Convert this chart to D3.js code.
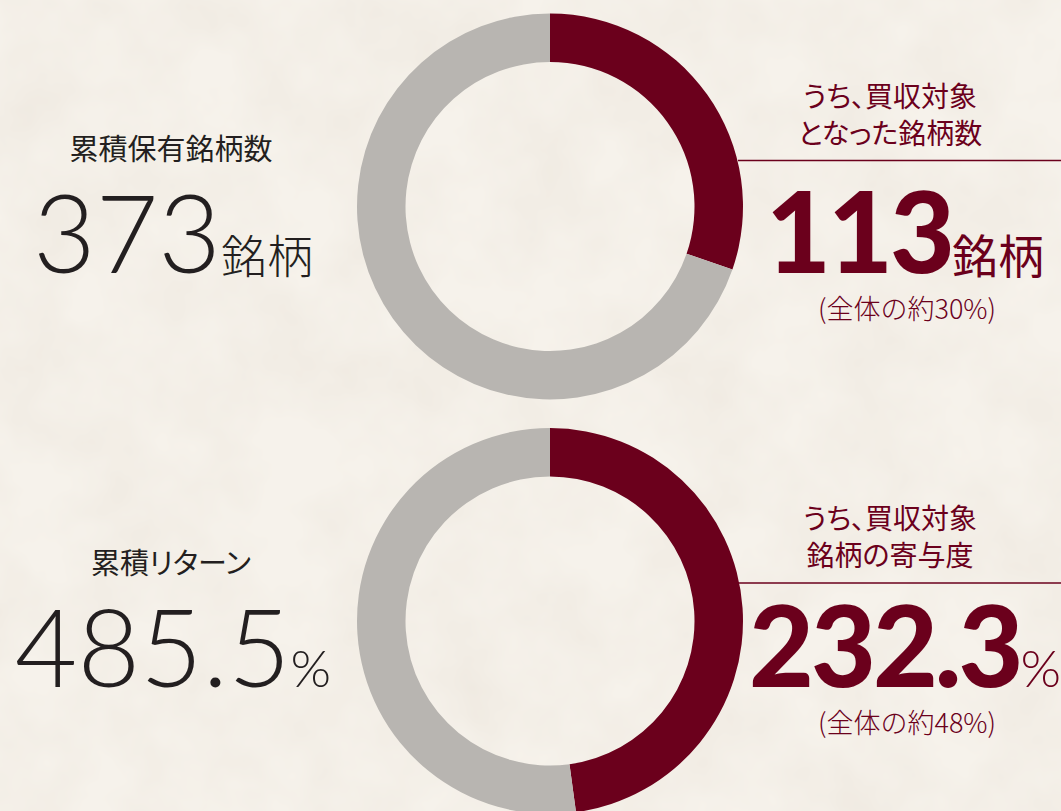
<!DOCTYPE html>
<html lang="ja">
<head>
<meta charset="UTF-8">
<title>買収対象銘柄</title>
<style>
  html, body { margin: 0; padding: 0; background: #f4efe7; }
  svg { display: block; }
  .jp { font-family: "Noto Sans CJK JP", "Noto Sans", sans-serif; }
  .palt { font-feature-settings: "palt"; }
  .num { font-family: Lato, "Noto Sans", sans-serif; }
</style>
</head>
<body>
<script src="https://cdnjs.cloudflare.com/ajax/libs/d3/7.8.5/d3.min.js"></script>
<script>
// Data
const titles = ['累積保有銘柄数', '累積リターン'];
const totals = [373, 485.5];
const totalTexts = ['373', '485.5'];
const units = ['銘柄', '%'];
const subsetTitles = [['うち、買収対象', 'となった銘柄数'], ['うち、買収対象', '銘柄の寄与度']];
const subsets = [113, 232.3];
const subsetTexts = ['113', '232.3'];
const shareTexts = ['(全体の約30%)', '(全体の約48%)'];

const width = 1061;
const height = 811;
const red = '#6b001c';
const grey = '#b8b5b1';
const ink = '#231f20';

const svg = d3.select('body').append('svg')
  .attr('width', width)
  .attr('height', height);

// paper texture
const defs = svg.append('defs');
const filter = defs.append('filter').attr('id', 'paper')
  .attr('x', 0).attr('y', 0).attr('width', '100%').attr('height', '100%');
filter.append('feTurbulence')
  .attr('type', 'fractalNoise')
  .attr('baseFrequency', 0.012)
  .attr('numOctaves', 4)
  .attr('seed', 3);
filter.append('feColorMatrix')
  .attr('type', 'matrix')
  .attr('values', '0 0 0 0 0.55  0 0 0 0 0.45  0 0 0 0 0.35  0 0 0 0.2 -0.06');

svg.append('rect').attr('width', width).attr('height', height).attr('fill', '#f6f2eb');
svg.append('rect').attr('width', width).attr('height', height).attr('filter', 'url(#paper)');

const cx = 550;
const cys = [206.5, 621];

const pie = d3.pie().sort(null).startAngle(0).endAngle(2 * Math.PI);
const arc = d3.arc().innerRadius(144.5).outerRadius(193);

const leftX = 173;
const rightX = 905;

titles.forEach((title, i) => {
  const cy = cys[i];
  const g = svg.append('g');

  // donut
  const slices = pie([subsets[i], totals[i] - subsets[i]]);
  g.append('g')
    .attr('transform', `translate(${cx},${cy})`)
    .selectAll('path')
    .data(slices)
    .join('path')
    .attr('d', arc)
    .attr('fill', (d, j) => j === 0 ? red : grey);

  // left block
  g.append('text')
    .attr('class', 'jp palt')
    .attr('x', leftX - 2)
    .attr('y', cy - 47)
    .attr('text-anchor', 'middle')
    .attr('font-size', 29)
    .attr('fill', ink)
    .text(title);

  const big = g.append('text')
    .attr('x', leftX)
    .attr('y', cy + 66)
    .attr('text-anchor', 'middle')
    .attr('fill', ink);
  big.append('tspan')
    .attr('class', 'num')
    .attr('font-size', 108)
    .attr('font-weight', 300)
    .text(totalTexts[i]);
  big.append('tspan')
    .attr('class', i === 0 ? 'jp' : 'num')
    .attr('font-size', i === 0 ? 46 : 52)
    .attr('font-weight', 300)
    .text(units[i]);

  // right block
  const lineY = cy - 46 + (i === 0 ? 0 : 8);
  g.append('line')
    .attr('x1', cx + 188)
    .attr('x2', width)
    .attr('y1', lineY)
    .attr('y2', lineY)
    .attr('stroke', red)
    .attr('stroke-width', 1.3);

  subsetTitles[i].forEach((t, k) => {
    g.append('text')
      .attr('class', 'jp palt')
      .attr('x', 890)
      .attr('y', lineY - 54 + k * 37)
      .attr('text-anchor', 'middle')
      .attr('font-size', 28)
      .attr('fill', red)
      .text(t);
  });

  const sub = g.append('text')
    .attr('x', rightX)
    .attr('y', cy + 66)
    .attr('text-anchor', 'middle')
    .attr('fill', red);
  sub.append('tspan')
    .attr('class', 'num')
    .attr('font-size', 112)
    .attr('font-weight', 900)
    .attr('letter-spacing', -3)
    .text(subsetTexts[i]);
  sub.append('tspan')
    .attr('class', i === 0 ? 'jp' : 'num')
    .attr('font-size', i === 0 ? 46 : 52)
    .attr('font-weight', i === 0 ? 400 : 300)
    .text(units[i]);

  g.append('text')
    .attr('class', 'jp')
    .attr('x', 907)
    .attr('y', cy + 112)
    .attr('text-anchor', 'middle')
    .attr('font-size', 27)
    .attr('font-weight', 300)
    .attr('fill', red)
    .text(shareTexts[i]);
});
</script>
</body>
</html>
